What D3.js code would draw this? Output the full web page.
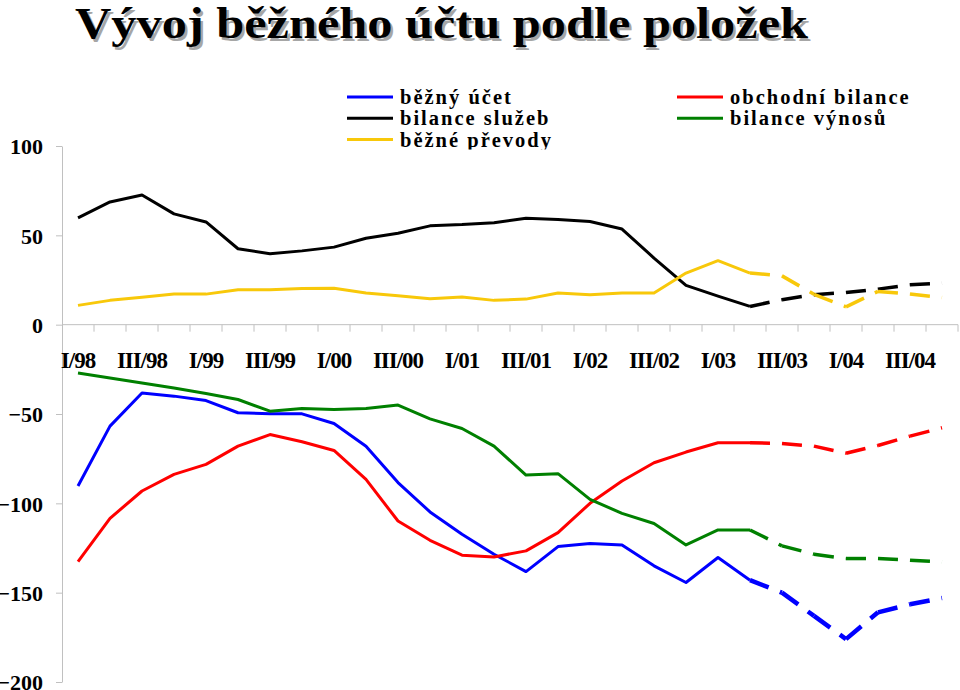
<!DOCTYPE html>
<html>
<head>
<meta charset="utf-8">
<script src="https://cdn.jsdelivr.net/npm/d3@7"></script>
<style>
	body { margin: 0; background: #fff; }
	svg text { font-family: "Liberation Serif", "Times New Roman", serif; font-weight: bold; }
</style>
</head>
<body>
<div id="chart"></div>
<script>
const quarters = [
	'I/98', 'II/98', 'III/98', 'IV/98',
	'I/99', 'II/99', 'III/99', 'IV/99',
	'I/00', 'II/00', 'III/00', 'IV/00',
	'I/01', 'II/01', 'III/01', 'IV/01',
	'I/02', 'II/02', 'III/02', 'IV/02',
	'I/03', 'II/03', 'III/03', 'IV/03',
	'I/04', 'II/04', 'III/04', 'IV/04'
];

const tickLabels = ['I/98', 'III/98', 'I/99', 'III/99', 'I/00', 'III/00', 'I/01',
	'III/01', 'I/02', 'III/02', 'I/03', 'III/03', 'I/04', 'III/04'];

const yTicks = [100, 50, 0, -50, -100, -150, -200];

// forecast (dashed) from this quarter on
const forecastFrom = 'II/03';

const beznyUcet = [-90.3, -56.8, -38.2, -40, -42.5, -49.3, -49.9, -49.9, -55.3, -68, -88.4, -104.8, -117.3, -128.5,
	-138.2, -124.2, -122.5, -123.3, -135, -144.3, -130.3, -143, -150, -163, -176, -161, -156.5, -153];
const obchodniBilance = [-132.6, -108.4, -93.1, -83.8, -78.2, -68, -61.5, -65.5, -70.4, -86.6, -109.9, -120.7, -129, -130,
	-126.6, -116.4, -100, -87.5, -77.3, -71.3, -66.1, -66.1, -66.5, -68, -72, -67.6, -62.4, -57.7];
const bilanceSluzeb = [59.8, 68.7, 72.6, 62, 57.5, 42.5, 39.7, 41.3, 43.4, 48.4, 51.2, 55.3, 56, 57.1,
	59.6, 58.8, 57.7, 53.5, 37.3, 22, 16, 10.2, 14, 16.8, 18, 19.9, 22.3, 23.3];
const bilanceVynosu = [-27, -29.8, -32.6, -35.4, -38.5, -41.9, -48.4, -46.9, -47.5, -46.9, -45, -52.7, -58.1, -68,
	-84.2, -83.4, -97.8, -105.6, -111.3, -123.3, -114.9, -114.9, -123.8, -128.5, -130.9, -130.9, -131.8, -132.8];
const bezneTransfery = [10.8, 13.6, 15.3, 17.1, 17.1, 19.6, 19.6, 20.3, 20.4, 17.7, 16.2, 14.5, 15.5, 13.6,
	14.3, 17.7, 16.8, 17.7, 17.7, 28.9, 35.8, 28.9, 27.3, 17, 10, 18.6, 17.1, 15.2];

const series = [
	{ name: 'běžný účet', color: '#0000ff', values: beznyUcet, dashWidth: 4.5 },
	{ name: 'obchodní bilance', color: '#ff0000', values: obchodniBilance, dashWidth: 3.5 },
	{ name: 'bilance služeb', color: '#000000', values: bilanceSluzeb, dashWidth: 3.5 },
	{ name: 'bilance výnosů', color: '#008000', values: bilanceVynosu, dashWidth: 3.5 },
	{ name: 'běžné převody', color: '#f8c80a', values: bezneTransfery, dashWidth: 3.5 }
];

const width = 960;
const height = 690;
const axisColor = '#c0c0c0';

const svg = d3.select('#chart')
	.append('svg')
	.attr('width', width)
	.attr('height', height);

const x = d3.scaleBand()
	.domain(quarters)
	.range([62, 958]);

const y = d3.scaleLinear()
	.domain([-200, 100])
	.range([682, 146]);

const cx = (q) => x(q) + x.bandwidth() / 2;

// title with shadow
const title = 'Vývoj běžného účtu podle položek';
[['#a6a6a6', 2.5], ['#000', 0]].forEach(([c, off]) => {
	svg.append('text')
		.attr('x', 75 + off)
		.attr('y', 38 + off)
		.attr('font-size', 45)
		.attr('textLength', 733)
		.attr('lengthAdjust', 'spacingAndGlyphs')
		.attr('fill', c)
		.text(title);
});

// y axis
const yAxis = svg.append('g')
	.attr('transform', `translate(${x.range()[0]},0)`)
	.call(d3.axisLeft(y)
		.tickValues(yTicks)
		.tickSize(6)
		.tickSizeOuter(0)
		.tickPadding(13)
		.tickFormat(d3.format('d')));

yAxis.select('.domain').attr('stroke', axisColor);
yAxis.selectAll('.tick line').attr('stroke', axisColor);
yAxis.selectAll('.tick text')
	.attr('font-family', '"Liberation Serif", "Times New Roman", serif')
	.attr('font-size', 22)
	.attr('font-weight', 'bold')
	.attr('fill', '#000')
	.attr('dy', '0.35em');

// x axis at zero
const xAxis = svg.append('g')
	.attr('transform', `translate(0,${y(0)})`);

xAxis.append('line')
	.attr('x1', x.range()[0])
	.attr('x2', x.range()[1])
	.attr('stroke', axisColor);

xAxis.selectAll('line.tick')
	.data(quarters)
	.join('line')
	.attr('class', 'tick')
	.attr('x1', (d) => x(d) + x.step())
	.attr('x2', (d) => x(d) + x.step())
	.attr('y1', 0)
	.attr('y2', 7)
	.attr('stroke', axisColor);

svg.append('g')
	.selectAll('text')
	.data(tickLabels)
	.join('text')
	.attr('x', (d) => cx(d))
	.attr('y', 368)
	.attr('text-anchor', 'middle')
	.attr('font-size', 23)
	.attr('letter-spacing', -1)
	.text((d) => d);

// lines
const line = d3.line()
	.x((d) => cx(d.q))
	.y((d) => y(d.v));

const split = quarters.indexOf(forecastFrom);

series.forEach((s) => {
	const pts = s.values.map((v, i) => ({ q: quarters[i], v }));

	svg.append('path')
		.datum(pts.slice(0, split + 1))
		.attr('d', line)
		.attr('fill', 'none')
		.attr('stroke', s.color)
		.attr('stroke-width', 3)
		.attr('stroke-linejoin', 'round');

	// each forecast segment restarts the dash pattern
	d3.pairs(pts.slice(split)).forEach((seg) => {
		svg.append('path')
			.datum(seg)
			.attr('d', line)
			.attr('fill', 'none')
			.attr('stroke', s.color)
			.attr('stroke-width', s.dashWidth)
			.attr('stroke-dasharray', '20,12');
	});
});

// legend (bottom row is cut by the plot area)
svg.append('clipPath')
	.attr('id', 'legendClip')
	.append('rect')
	.attr('x', 300)
	.attr('y', 60)
	.attr('width', 660)
	.attr('height', 89.5);

const legend = svg.append('g')
	.attr('clip-path', 'url(#legendClip)');

const item = legend.selectAll('g')
	.data(series)
	.join('g')
	.attr('transform', (d, i) => `translate(${i % 2 ? 677 : 347},${104 + Math.floor(i / 2) * 21.3})`);

item.append('line')
	.attr('x1', 0)
	.attr('x2', 46)
	.attr('y1', -7)
	.attr('y2', -7)
	.attr('stroke', (d) => d.color)
	.attr('stroke-width', 3);

item.append('text')
	.attr('x', 53)
	.attr('font-size', 20.5)
	.attr('letter-spacing', 2)
	.text((d) => d.name);
</script>
</body>
</html>
